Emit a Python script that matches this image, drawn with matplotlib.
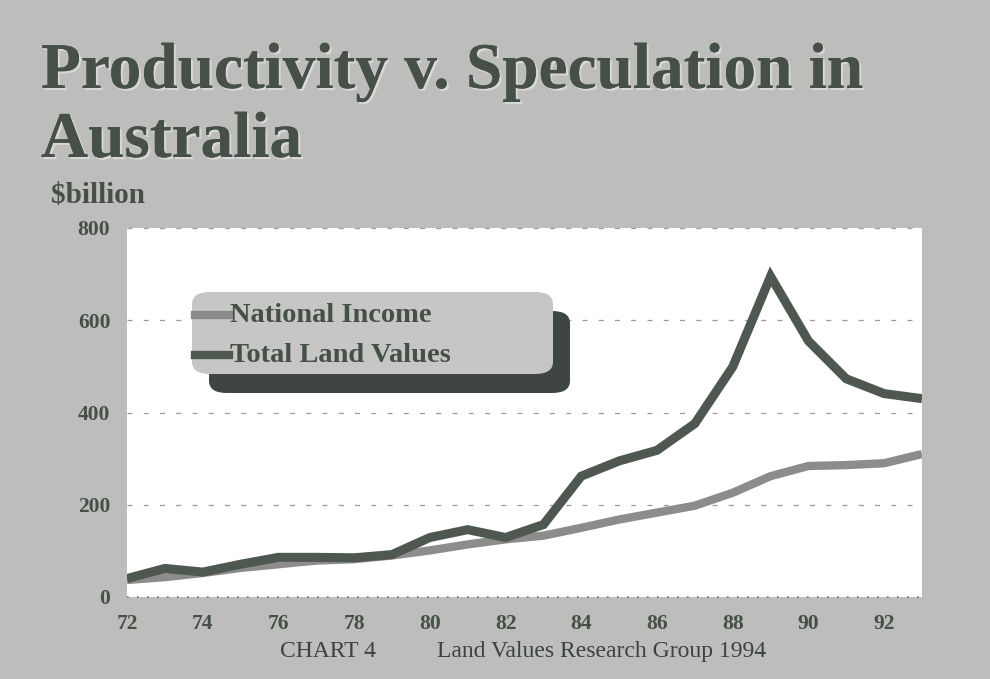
import matplotlib
matplotlib.use("Agg")
import matplotlib.pyplot as plt
import matplotlib.patheffects as pe
from matplotlib.patches import FancyBboxPatch
from matplotlib.lines import Line2D

years = list(range(72, 94))
national_income = [37, 43, 52, 63, 71, 79, 82, 90, 101, 114, 125, 133,
                   150, 168, 183, 198, 226, 262, 284, 286, 290, 310]
land_values = [40, 62, 54, 71, 86, 86, 85, 92, 129, 146, 129, 157,
               262, 295, 318, 376, 499, 695, 555, 473, 441, 430]
x_ticks = [72, 74, 76, 78, 80, 82, 84, 86, 88, 90, 92]
y_ticks = [0, 200, 400, 600, 800]
legend_labels = ["National Income", "Total Land Values"]

BG = "#bdbdbb"
DARK = "#465049"
INCOME = "#8c8c8a"
LAND = "#4f5751"
SERIF = "Liberation Serif"

W, H = 990.0, 679.0


def fx(px):
    return px / W


def fy(py):
    return 1 - py / H


fig = plt.figure(figsize=(9.9, 6.79), dpi=100, facecolor=BG)

# title, two lines, with a faint light shadow
shadow_fx = [pe.withSimplePatchShadow(offset=(1.5, -1.5), shadow_rgbFace="#dcdcdc", alpha=0.9),
             pe.Normal()]
for line, base in [("Productivity v. Speculation in", 88), ("Australia", 157)]:
    t = fig.text(fx(41), fy(base), line, family=SERIF, weight="bold", fontsize=47,
                 color=DARK, va="baseline", ha="left")
    t.set_path_effects(shadow_fx)

fig.text(fx(51), fy(203), "$billion", family=SERIF, weight="bold", fontsize=21,
         color=DARK, va="baseline", ha="left")

ax = fig.add_axes([fx(127), fy(597), fx(922) - fx(127), fy(228) - fy(597)])
ax.set_facecolor("white")
ax.set_xlim(72, 93)
ax.set_ylim(0, 800)
for s in ax.spines.values():
    s.set_visible(False)

for y in [200, 400, 600, 800]:
    ax.axhline(y, color="#9a9a9a", linewidth=0.9, linestyle=(0, (4, 9)), zorder=1)
ax.axhline(0, color="#777777", linewidth=1.2, linestyle=(0, (1, 5)), zorder=1,
           clip_on=False)

ax.plot(years, national_income, color=INCOME, linewidth=6, zorder=3,
        solid_capstyle="butt")
ax.plot(years, land_values, color=LAND, linewidth=6.5, zorder=4,
        solid_capstyle="butt", solid_joinstyle="miter")

ax.set_xticks(x_ticks)
ax.set_yticks(y_ticks)
ax.set_xticklabels([str(v) for v in x_ticks])
ax.set_yticklabels([str(v) for v in y_ticks])
ax.tick_params(length=0, colors=DARK)
ax.tick_params(axis="x", pad=12)
ax.tick_params(axis="y", pad=12)
for lab in ax.get_xticklabels() + ax.get_yticklabels():
    lab.set_family(SERIF)
    lab.set_weight("bold")
    lab.set_fontsize(15.5)
    lab.set_color(DARK)

# legend box with dark drop shadow
shadow = FancyBboxPatch((fx(209), fy(393)), fx(570) - fx(209), fy(311) - fy(393),
                        boxstyle="round,pad=0,rounding_size=0.018",
                        transform=fig.transFigure, facecolor="#3f4641",
                        edgecolor="none", zorder=5)
box = FancyBboxPatch((fx(192), fy(374)), fx(553) - fx(192), fy(292) - fy(374),
                     boxstyle="round,pad=0,rounding_size=0.018",
                     transform=fig.transFigure, facecolor="#c6c6c4",
                     edgecolor="none", zorder=6)
fig.add_artist(shadow)
fig.add_artist(box)

for lab, col, row in zip(legend_labels, [INCOME, LAND], [315, 355]):
    fig.add_artist(Line2D([fx(195), fx(229)], [fy(row), fy(row)], color=col,
                          linewidth=6, transform=fig.transFigure, zorder=7))
    fig.text(fx(230), fy(row), lab, family=SERIF, weight="bold", fontsize=20.5,
             color=DARK, va="center", ha="left", zorder=8)

fig.text(fx(280), fy(657), "CHART 4", family=SERIF, fontsize=17,
         color="#3c423e", ha="left", va="baseline")
fig.text(fx(437), fy(657), "Land Values Research Group 1994", family=SERIF,
         fontsize=17, color="#3c423e", ha="left", va="baseline")

fig.savefig("out.png", dpi=100, facecolor=BG)
